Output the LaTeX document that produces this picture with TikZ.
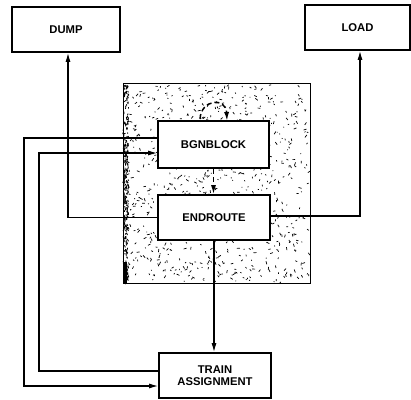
\documentclass[tikz,border=0pt]{standalone}
\usepackage{fontspec}
\setmainfont{Liberation Sans}
\usetikzlibrary{arrows.meta,calc}
\begin{document}
\begin{tikzpicture}[x=1bp,y=-1bp,
  blk/.style={draw,line width=1.6bp,fill=white,font=\bfseries\fontsize{11.3}{12.5}\selectfont,align=center,inner sep=0pt},
  arr/.style={line width=1.3bp,-{Latex[length=9bp,width=5bp]}},
  dsh/.style={dash pattern=on 5bp off 3bp}]
\useasboundingbox (0,0) rectangle (411,400);
% stippled area
\draw[line width=1bp] (123,83) rectangle (310,283);
\pgfmathsetseed{7}
\foreach \i in {1,...,850}{
  \pgfmathsetmacro{\px}{124+rnd*185}
  \pgfmathsetmacro{\py}{84+rnd*198}
  \pgfmathsetmacro{\pa}{rnd*360}
  \pgfmathsetmacro{\pl}{0.8+rnd*2.4}
  \draw[line width=0.7bp] (\px,\py) -- ++(\pa:\pl);
}
\foreach \i in {1,...,300}{
  \pgfmathsetmacro{\px}{123.5+rnd*5}
  \pgfmathsetmacro{\py}{84+rnd*198}
  \pgfmathsetmacro{\pl}{0.8+rnd*2}
  \draw[line width=0.8bp] (\px,\py) -- ++(rnd*2-1,\pl);
}
\fill (123,262) rectangle (127,283);
% boxes
\node[blk,minimum width=108bp,minimum height=45bp] (dump) at (66,29.5) {DUMP};
\node[blk,minimum width=105bp,minimum height=45bp] (load) at (357.5,27.5) {LOAD};
\node[blk,minimum width=111bp,minimum height=47bp] (bgn) at (213.5,144.5) {BGNBLOCK};
\node[blk,minimum width=112bp,minimum height=45bp] (end) at (214,217.5) {ENDROUTE};
\node[blk,minimum width=112bp,minimum height=45bp] (train) at (215,375.5) {TRAIN\\ASSIGNMENT};
% connectors
\draw[arr] (end.west) -| ([xshift=2bp]dump.south);
\draw[arr] ([yshift=1.5bp]end.east) -| ([xshift=2.5bp]load.south);
\draw[arr,dsh] (bgn.south) -- (bgn.south |- end.north);
\draw[arr] (end.south) -- (end.south |- train.north);
\coordinate (lo1) at (24,138);
\coordinate (lo2) at (39,153);
\draw[arr] (bgn.west |- lo1) -- (lo1) |- ([yshift=-10.5bp]train.west);
\draw[arr] ([yshift=4.5bp]train.west) -| (lo2) -- (bgn.west |- lo2);
\coordinate (ls) at (200,119);
\coordinate (le) at (227,121);
\draw[arr,dsh,line width=1.5bp] (ls) .. controls (201,99) and (226,97) .. (le);
\end{tikzpicture}
\end{document}
